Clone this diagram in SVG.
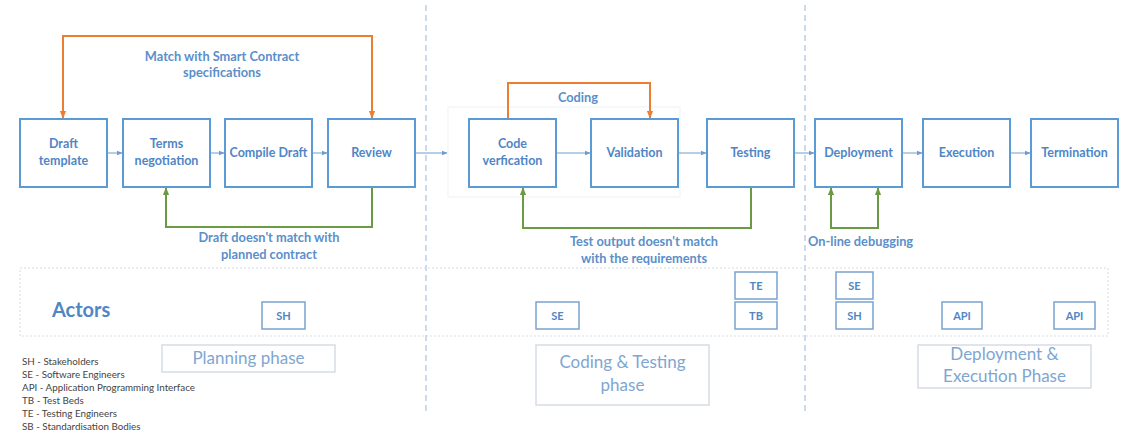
<svg xmlns="http://www.w3.org/2000/svg" width="1125" height="438" viewBox="0 0 1125 438">
<defs>
<style>
.box{fill:#fff;stroke:#5b9bd5;stroke-width:2}
.bt{font-family:Lato,"Liberation Sans",sans-serif;font-weight:bold;font-size:12.5px;fill:#4f86c6;text-anchor:middle}
.lbl{font-family:Lato,"Liberation Sans",sans-serif;font-weight:bold;font-size:12.8px;fill:#5b8fc9;text-anchor:middle}
.abox{fill:#fff;stroke:#7aa3cf;stroke-width:1.5}
.at{font-family:Lato,"Liberation Sans",sans-serif;font-weight:bold;font-size:11px;fill:#4f86c6;text-anchor:middle}
.pbox{fill:#fff;stroke:#d6dde6;stroke-width:1.5}
.pt{font-family:Lato,"Liberation Sans",sans-serif;font-size:17px;fill:#7ea6d2;text-anchor:middle}
.leg{font-family:Lato,"Liberation Sans",sans-serif;font-size:9.8px;fill:#444}
.flow{stroke:#6f9cd0;stroke-width:1;fill:none}
.orange{stroke:#ed7d31;stroke-width:2;fill:none}
.green{stroke:#6a9a43;stroke-width:2;fill:none}
.dash{stroke:#a9c4de;stroke-width:1.2;stroke-dasharray:6 4}
</style>
<marker id="ab" viewBox="0 0 10 10" refX="9" refY="5" markerWidth="6" markerHeight="6" orient="auto"><path d="M0,1 L10,5 L0,9 z" fill="#6f9cd0"/></marker>
<marker id="ao" viewBox="0 0 10 10" refX="9" refY="5" markerWidth="4" markerHeight="4" orient="auto-start-reverse"><path d="M0,1 L10,5 L0,9 z" fill="#ed7d31"/></marker>
<marker id="ag" viewBox="0 0 10 10" refX="9" refY="5" markerWidth="4" markerHeight="4" orient="auto-start-reverse"><path d="M0,1 L10,5 L0,9 z" fill="#6a9a43"/></marker>
</defs>
<rect width="1125" height="438" fill="#fff"/>

<g id="dividers">
<line class="dash" x1="426" y1="5" x2="426" y2="412"/>
<line class="dash" x1="805" y1="5" x2="805" y2="412"/>
</g>

<rect id="coding-container" x="448" y="107" width="232" height="90" fill="none" stroke="#eef1f5" stroke-width="1"/>
<rect id="actors-band" x="20" y="268" width="1088" height="68" fill="none" stroke="#d8dde3" stroke-width="1" stroke-dasharray="2 2"/>

<g id="connectors">
<line class="flow" x1="107" y1="153" x2="122" y2="153" marker-end="url(#ab)"/>
<line class="flow" x1="210" y1="153" x2="224" y2="153" marker-end="url(#ab)"/>
<line class="flow" x1="312" y1="153" x2="327" y2="153" marker-end="url(#ab)"/>
<line class="flow" x1="415" y1="153" x2="447" y2="153" marker-end="url(#ab)"/>
<line class="flow" x1="556" y1="153" x2="590" y2="153" marker-end="url(#ab)"/>
<line class="flow" x1="678" y1="153" x2="706" y2="153" marker-end="url(#ab)"/>
<line class="flow" x1="794" y1="153" x2="814" y2="153" marker-end="url(#ab)"/>
<line class="flow" x1="902" y1="153" x2="922" y2="153" marker-end="url(#ab)"/>
<line class="flow" x1="1010" y1="153" x2="1030" y2="153" marker-end="url(#ab)"/>
<path class="orange" d="M63,118 V36 H372 V118" marker-end="url(#ao)" marker-start="url(#ao)"/>
<path class="green" d="M372,187 V227 H166 V188" marker-end="url(#ag)"/>
<path class="orange" d="M508,119 V83 H650 V118" marker-end="url(#ao)"/>
<path class="green" d="M751,187 V228 H523 V188" marker-end="url(#ag)"/>
<path class="green" d="M831,188 V228 H878 V188" marker-end="url(#ag)" marker-start="url(#ag)"/>
<text class="lbl" x="222" y="61">Match with Smart Contract</text>
<text class="lbl" x="222" y="77">specifications</text>
<text class="lbl" x="269" y="242">Draft doesn't match with</text>
<text class="lbl" x="269" y="259">planned contract</text>
<text class="lbl" x="578" y="102">Coding</text>
<text class="lbl" x="644" y="246">Test output doesn't match</text>
<text class="lbl" x="644" y="263">with the requirements</text>
<text class="lbl" x="808" y="246" style="text-anchor:start">On-line debugging</text>
</g>

<g id="draft-template"><rect class="box" x="20" y="119" width="87" height="68"/><text class="bt" x="63.5" y="148">Draft</text><text class="bt" x="63.5" y="165">template</text></g>
<g id="terms-negotiation"><rect class="box" x="123" y="119" width="87" height="68"/><text class="bt" x="166.5" y="148">Terms</text><text class="bt" x="166.5" y="165">negotiation</text></g>
<g id="compile-draft"><rect class="box" x="225" y="119" width="87" height="68"/><text class="bt" x="268.5" y="157">Compile Draft</text></g>
<g id="review"><rect class="box" x="328" y="119" width="87" height="68"/><text class="bt" x="371.5" y="157">Review</text></g>
<g id="code-verification"><rect class="box" x="469" y="119" width="87" height="68"/><text class="bt" x="512.5" y="148">Code</text><text class="bt" x="512.5" y="165">verfication</text></g>
<g id="validation"><rect class="box" x="591" y="119" width="87" height="68"/><text class="bt" x="634.5" y="157">Validation</text></g>
<g id="testing"><rect class="box" x="707" y="119" width="87" height="68"/><text class="bt" x="750.5" y="157">Testing</text></g>
<g id="deployment"><rect class="box" x="815" y="119" width="87" height="68"/><text class="bt" x="858.5" y="157">Deployment</text></g>
<g id="execution"><rect class="box" x="923" y="119" width="87" height="68"/><text class="bt" x="966.5" y="157">Execution</text></g>
<g id="termination"><rect class="box" x="1031" y="119" width="87" height="68"/><text class="bt" x="1074.5" y="157">Termination</text></g>

<g id="actors-title"><text x="52" y="317" font-family="Lato,'Liberation Sans',sans-serif" font-weight="bold" font-size="20" fill="#4f86c6">Actors</text></g>
<g id="actor-sh1"><rect class="abox" x="262" y="302" width="43" height="27"/><text class="at" x="283.5" y="320">SH</text></g>
<g id="actor-se1"><rect class="abox" x="536" y="302" width="43" height="27"/><text class="at" x="557.5" y="320">SE</text></g>
<g id="actor-te"><rect class="abox" x="735" y="272" width="42" height="27"/><text class="at" x="756" y="290">TE</text></g>
<g id="actor-tb"><rect class="abox" x="735" y="302" width="42" height="27"/><text class="at" x="756" y="320">TB</text></g>
<g id="actor-se2"><rect class="abox" x="836" y="272" width="37" height="27"/><text class="at" x="854.5" y="290">SE</text></g>
<g id="actor-sh2"><rect class="abox" x="836" y="302" width="37" height="27"/><text class="at" x="854.5" y="320">SH</text></g>
<g id="actor-api1"><rect class="abox" x="942" y="302" width="40" height="27"/><text class="at" x="962" y="320">API</text></g>
<g id="actor-api2"><rect class="abox" x="1054" y="302" width="41" height="27"/><text class="at" x="1074.5" y="320">API</text></g>

<g id="planning-phase"><rect class="pbox" x="162" y="345" width="173" height="27"/><text class="pt" x="248.5" y="364">Planning phase</text></g>
<g id="coding-phase"><rect class="pbox" x="536" y="345" width="173" height="60"/><text class="pt" x="622.5" y="368">Coding &amp; Testing</text><text class="pt" x="622.5" y="391">phase</text></g>
<g id="deployment-phase"><rect class="pbox" x="918" y="345" width="173" height="43"/><text class="pt" x="1004.5" y="360">Deployment &amp;</text><text class="pt" x="1004.5" y="382">Execution Phase</text></g>

<g id="legend">
<text class="leg" x="22" y="365">SH - Stakeholders</text>
<text class="leg" x="22" y="378">SE - Software Engineers</text>
<text class="leg" x="22" y="391">API - Application Programming Interface</text>
<text class="leg" x="22" y="404">TB - Test Beds</text>
<text class="leg" x="22" y="417">TE - Testing Engineers</text>
<text class="leg" x="22" y="430">SB - Standardisation Bodies</text>
</g>
</svg>
